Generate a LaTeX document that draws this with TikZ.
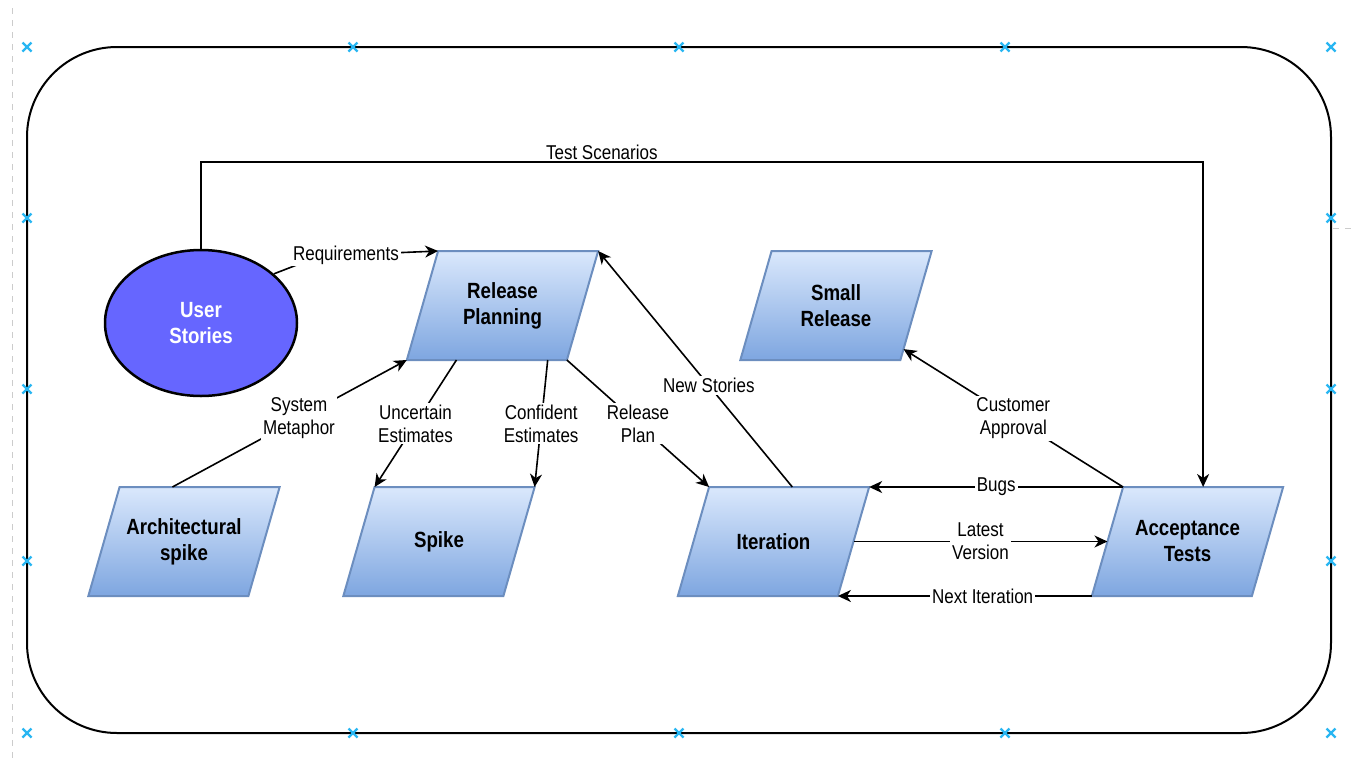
\documentclass[tikz,border=0pt]{standalone}
\usepackage{fontspec}
\setmainfont[FakeStretch=0.85]{Liberation Sans}
\usepackage{tikz}
\usetikzlibrary{shapes.geometric, positioning, arrows.meta, calc}
\definecolor{boxtop}{HTML}{DAE8FC}
\definecolor{boxbottom}{HTML}{7EA6E0}
\definecolor{boxline}{HTML}{6C8EBF}
\definecolor{storyfill}{HTML}{6666FF}
\definecolor{handleblue}{HTML}{29B6F2}
\newcommand{\boxtext}[1]{\parbox[c][54.5pt][c]{64.4pt}{\centering #1}}
\tikzset{
  activity/.style={trapezium, trapezium left angle=74, trapezium right angle=106, inner sep=0pt, outer sep=0pt, text centered, draw=boxline, line width=1pt, top color=boxtop, bottom color=boxbottom, font=\fontsize{11}{13}\selectfont\bfseries},
  story/.style={ellipse, minimum width=96pt, minimum height=73pt, inner sep=0pt, align=center, draw=black, line width=1.25pt, fill=storyfill, text=white, font=\fontsize{11}{13}\selectfont\bfseries},
  arrow/.style={line width=0.8pt, -{Stealth[length=6.5pt, width=6pt, inset=2pt]}},
  tag/.style={fill=white, inner sep=1pt, align=center, font=\fontsize{10}{11.5}\selectfont},
  handle/.style={handleblue, line width=1.1pt}
}

\begin{document}
\begin{tikzpicture}[x=0.5pt, y=-0.5pt]
    \useasboundingbox (0,0) rectangle (1351,767);
    \draw [dashed, gray!40, line width=0.4pt] (12,8) -- (12,762);
    \draw [dashed, gray!40, line width=0.4pt] (1333,228) -- (1351,228);
    \draw [line width=1pt, rounded corners=45pt] (27,47) rectangle (1331,733);
    \foreach \x in {27,353,679,1005,1331} {
        \draw [handle] (\x,47) +(-4.5,-4.5) -- +(4.5,4.5) +(-4.5,4.5) -- +(4.5,-4.5);
        \draw [handle] (\x,733) +(-4.5,-4.5) -- +(4.5,4.5) +(-4.5,4.5) -- +(4.5,-4.5);
    }
    \foreach \y in {218,389,561} {
        \draw [handle] (27,\y) +(-4.5,-4.5) -- +(4.5,4.5) +(-4.5,4.5) -- +(4.5,-4.5);
        \draw [handle] (1331,\y) +(-4.5,-4.5) -- +(4.5,4.5) +(-4.5,4.5) -- +(4.5,-4.5);
    }

    \node (us) [story] at (201,323) {User\\Stories};
    \node (rp) [activity] at (502.5,305.5) {\boxtext{Release\\Planning}};
    \node (sr) [activity] at (836,305.5) {\boxtext{Small\\Release}};
    \node (as) [activity] at (184,541.5) {\boxtext{Architectural\\spike}};
    \node (sp) [activity] at (439,541.5) {\boxtext{Spike}};
    \node (it) [activity] at (773.5,541.5) {\boxtext{Iteration}};
    \node (at) [activity] at (1187.5,541.5) {\boxtext{Acceptance\\Tests}};
    \coordinate (reqbend) at (320,256);

    \draw [arrow] (us.north) -- ++(0,-87) -| node [tag, pos=0.2, above, fill=none, inner sep=0.5pt] {Test Scenarios} (at.top side);
    \draw [arrow] (us.34) -- (reqbend) -- node [tag, pos=0.22] {Requirements} (rp.top left corner);
    \draw [arrow] ($(as.top left corner)!0.33!(as.top right corner)$) -- node [tag, pos=0.54] {System\\Metaphor} (rp.bottom left corner);
    \draw [arrow] ($(rp.bottom left corner)!0.31!(rp.bottom right corner)$) -- node [tag] {Uncertain\\Estimates} (sp.top left corner);
    \draw [arrow] ($(rp.bottom left corner)!0.88!(rp.bottom right corner)$) -- node [tag] {Confident\\Estimates} (sp.top right corner);
    \draw [arrow] (rp.bottom right corner) -- node [tag] {Release\\Plan} (it.top left corner);
    \draw [arrow] ($(it.top left corner)!0.52!(it.top right corner)$) -- node [tag, pos=0.43] {New Stories} (rp.top right corner);
    \draw [arrow] (at.top left corner) -- node [tag] {Customer\\Approval} ($(sr.bottom right corner)!0.1!(sr.top right corner)$);
    \draw [arrow] (at.top left corner) -- node [tag] {Bugs} (it.top right corner);
    \draw [arrow] (it.right side) -- node [tag] {Latest\\Version} (at.left side);
    \draw [arrow, line width=1pt] (at.bottom left corner) -- node [tag, pos=0.43] {Next Iteration} (it.bottom right corner);
\end{tikzpicture}
\end{document}
